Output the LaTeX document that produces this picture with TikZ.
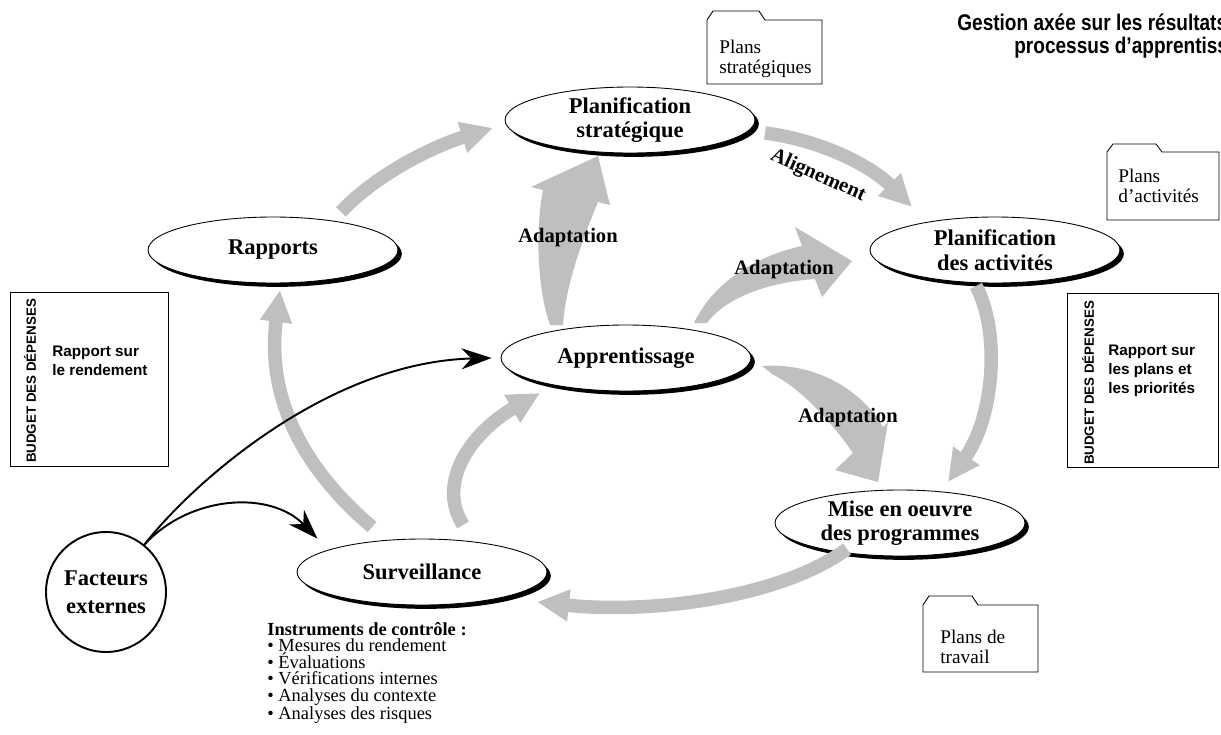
\documentclass[tikz,border=0pt]{standalone}
\usepackage{fontspec}
\setmainfont{Liberation Serif}
\setsansfont{Liberation Sans}
\newfontfamily\narrowsans[FakeStretch=0.84]{Liberation Sans}
\usetikzlibrary{arrows.meta,shapes.geometric,shadows}
\definecolor{flowgray}{gray}{0.75}
\tikzset{
  phase/.style={ellipse,draw,line width=0.5pt,fill=white,inner sep=0pt,
    minimum width=5cm,minimum height=1.32cm,align=center,
    font=\fontsize{12.8}{14}\selectfont\bfseries,
    drop shadow={shadow xshift=2.2pt,shadow yshift=-2.2pt,fill=black,opacity=1}},
  grayflow/.style={draw=flowgray,line width=0.27cm,-{Triangle[length=0.64cm,width=0.6cm]}},
  adaptlabel/.style={font=\fontsize{11.7}{14}\selectfont\bfseries,inner sep=0pt},
  ext/.style={line width=1.1pt,-{Stealth[length=0.6cm,width=0.42cm]}},
  folder/.style={draw,line width=0.5pt},
  foldertext/.style={font=\fontsize{11}{11}\selectfont,align=left,anchor=north west,inner sep=0pt},
  budget/.style={draw,line width=0.5pt,minimum height=3.48cm,inner sep=0pt},
  budgetside/.style={rotate=90,inner sep=0pt,font=\sffamily\bfseries\fontsize{7.6}{9}\selectfont},
  budgettext/.style={anchor=north west,align=left,inner sep=0pt,font=\sffamily\bfseries\fontsize{8.7}{10.8}\selectfont},
  heading/.style={anchor=base west,inner sep=0pt,font=\narrowsans\bfseries\fontsize{12.9}{14}\selectfont}
}
\begin{document}
\begin{tikzpicture}[x=0.02cm,y=-0.02cm]
  \useasboundingbox (0,0) rectangle (1221,734);

  \node[heading] (ttl1) at (957,30) {Gestion axée sur les résultats};
  \node[heading] (ttl2) at (1014,53) {processus d’apprentissage};

  \draw[folder] (707,84) -- (707,20) -- (713,11) -- (759,11) -- (765,20) -- (822,20) -- (822,84) -- cycle;
  \node[foldertext] (fd1) at (719,40) {Plans\\stratégiques};
  \draw[folder] (1107,220) -- (1107,152) -- (1113,144) -- (1156,144) -- (1162,152) -- (1219,152) -- (1219,220) -- cycle;
  \node[foldertext] (fd2) at (1118,169) {Plans\\d’activités};
  \draw[folder] (923,672) -- (923,605) -- (929,596) -- (972,596) -- (978,605) -- (1038,605) -- (1038,672) -- cycle;
  \node[foldertext] (fd3) at (940,630) {Plans de\\travail};

  \node[budget,minimum width=3.16cm] (bl) at (89,379) {};
  \node[budgetside] (blv) at (30,381) {BUDGET DES DÉPENSES};
  \node[budgettext] (blt) at (52,346) {Rapport sur\\le rendement};
  \node[budget,minimum width=3.02cm] (br) at (1142.5,380) {};
  \node[budgetside] (brv) at (1088,383) {BUDGET DES DÉPENSES};
  \node[budgettext] (brt) at (1108,345) {Rapport sur\\les plans et\\les priorités};

  \node[phase] (ps) at (630,120) {Planification\\stratégique};
  \node[phase] (rap) at (273,250) {Rapports};
  \node[phase] (pa) at (995,250) {Planification\\des activités};
  \node[phase] (app) at (626,358) {Apprentissage};
  \node[phase] (mo) at (900,523) {Mise en oeuvre\\des programmes};
  \node[phase] (sur) at (422,572) {Surveillance};
  \node[circle,draw,line width=1.1pt,minimum size=2.4cm,inner sep=0pt,align=center,
    font=\fontsize{12.8}{16}\selectfont\bfseries] (fe) at (106,592) {Facteurs\\externes};

  \node[anchor=north west,inner sep=0pt,align=left,font=\fontsize{10.5}{9.4}\selectfont] (ctl) at (267,622)
    {\textbf{Instruments de contrôle :}\\• Mesures du rendement\\• Évaluations\\• Vérifications internes\\• Analyses du contexte\\• Analyses des risques};

  \coordinate (rapout) at (341,212);  \coordinate (psin) at (493,128);
  \coordinate (psout) at (765,133);   \coordinate (pain) at (912,207);
  \coordinate (paout) at (976,286);   \coordinate (moin) at (948,482);
  \coordinate (moout) at (847,549);   \coordinate (surin) at (537,602);
  \coordinate (surup) at (372,527);   \coordinate (rapin) at (280,290);
  \coordinate (surapp) at (463,525);  \coordinate (appin) at (540,393);

  \draw[grayflow] (rapout) .. controls (372,178) and (428,148) .. (psin);
  \draw[grayflow] (psout) .. controls (820,140) and (870,165) .. (pain);
  \draw[grayflow] (paout) .. controls (1000,330) and (995,415) .. (moin);
  \draw[grayflow] (moout) .. controls (780,598) and (650,614) .. (surin);
  \draw[grayflow] (surup) .. controls (305,470) and (266,400) .. (rapin);
  \draw[grayflow] (surapp) .. controls (435,480) and (475,430) .. (appin);

  \fill[flowgray] (550,325) .. controls (536,285) and (536,225) .. (543,190) -- (531,187) -- (598,156)
    -- (610,205) -- (598,202) .. controls (580,245) and (565,290) .. (563,325) -- cycle;
  \fill[flowgray] (694,323) .. controls (712,285) and (752,257) .. (802,246) -- (795,227) -- (852,261)
    -- (822,297) -- (815,279) .. controls (770,282) and (726,297) .. (707,323) -- cycle;
  \fill[flowgray] (762,366) .. controls (815,362) and (862,390) .. (883,427) -- (888,422) -- (878,482)
    -- (835,470) -- (853,453) .. controls (830,420) and (800,388) .. (772,374) -- cycle;

  \node[adaptlabel] (ad1) at (568,238) {Adaptation};
  \node[adaptlabel] (ad2) at (784,270) {Adaptation};
  \node[adaptlabel] (ad3) at (848,418) {Adaptation};
  \node[adaptlabel,rotate=-24] (al) at (818,176) {Alignement};

  \draw[ext] (fe.51) .. controls (195,480) and (330,362) .. ([xshift=-0.18cm]app.west);
  \draw[ext] (fe.51) .. controls (190,495) and (270,490) .. ([yshift=0.3cm]sur.170);
\end{tikzpicture}
\end{document}
